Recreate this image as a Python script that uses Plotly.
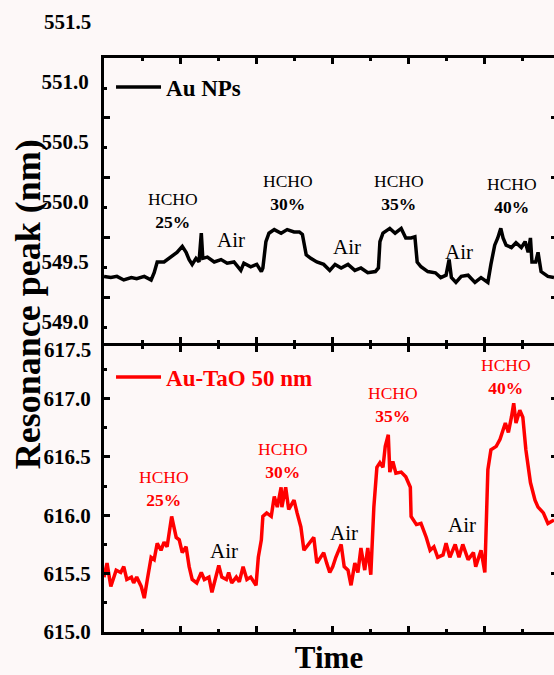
import plotly.graph_objects as go

# ---- measured resonance-peak traces (time in arbitrary units) ----
time_au = [0.0, 0.9, 1.7, 2.6, 3.6, 4.3, 5.3, 6.2, 6.6, 7.0, 7.9, 8.8, 9.6, 10.3, 10.8,
           11.2, 11.6, 12.1, 12.5, 12.8, 13.0, 13.6, 14.5, 15.4, 16.2, 17.1, 18.0, 18.4,
           19.3, 20.1, 20.7, 20.9, 21.3, 21.7, 22.4, 23.3, 24.1, 25.0, 25.7, 26.1, 26.6,
           27.2, 28.0, 28.9, 29.7, 30.4, 31.2, 32.1, 33.0, 33.8, 34.7, 35.7, 36.1, 36.3,
           36.7, 37.6, 38.3, 39.1, 39.7, 40.4, 40.9, 41.2, 41.7, 42.6, 43.6, 44.3, 45.0,
           45.4, 45.7, 46.3, 47.0, 47.9, 48.8, 49.6, 50.5, 50.9, 51.4, 51.8, 52.2, 52.5,
           52.9, 53.6, 54.2, 54.9, 55.4, 55.8, 56.1, 56.3, 56.8, 57.1, 57.5, 58.4, 59.2]
peak_au = [549.38, 549.37, 549.38, 549.35, 549.37, 549.36, 549.38, 549.35, 549.41, 549.50,
           549.50, 549.54, 549.58, 549.63, 549.58, 549.52, 549.48, 549.53, 549.50, 549.74,
           549.53, 549.54, 549.50, 549.52, 549.49, 549.50, 549.43, 549.49, 549.46, 549.48,
           549.42, 549.45, 549.67, 549.74, 549.77, 549.74, 549.77, 549.75, 549.75, 549.73,
           549.56, 549.53, 549.50, 549.48, 549.43, 549.48, 549.45, 549.48, 549.43, 549.45,
           549.41, 549.42, 549.45, 549.67, 549.74, 549.78, 549.74, 549.78, 549.70, 549.70,
           549.71, 549.50, 549.46, 549.42, 549.41, 549.37, 549.39, 549.52, 549.37, 549.33,
           549.38, 549.39, 549.33, 549.37, 549.33, 549.48, 549.64, 549.70, 549.78, 549.70,
           549.64, 549.62, 549.66, 549.62, 549.67, 549.58, 549.70, 549.50, 549.50, 549.58,
           549.42, 549.38, 549.37]

time_tao = [0.0, 0.4, 0.9, 1.6, 2.2, 2.6, 3.0, 3.6, 3.9, 4.3, 4.9, 5.3, 5.7, 6.2, 6.6, 7.0,
            7.5, 7.9, 8.3, 8.6, 8.9, 9.5, 9.9, 10.3, 10.8, 11.2, 11.6, 12.2, 12.8, 13.2,
            13.8, 14.2, 14.7, 15.1, 15.5, 16.1, 16.4, 16.8, 17.4, 17.8, 18.3, 18.8, 19.3,
            20.0, 20.3, 20.7, 20.9, 21.4, 22.0, 22.4, 22.8, 23.3, 23.4, 23.9, 24.3, 25.0,
            25.4, 25.9, 26.3, 27.0, 27.6, 28.0, 28.9, 29.3, 29.7, 30.1, 30.5, 31.2, 31.6,
            32.1, 32.5, 33.0, 33.4, 33.8, 34.3, 34.7, 35.1, 35.5, 35.9, 36.3, 36.7, 37.0,
            37.4, 37.6, 38.0, 38.4, 39.1, 39.7, 40.3, 40.4, 41.1, 41.7, 42.4, 42.9, 43.4,
            43.9, 44.6, 45.0, 45.5, 46.2, 46.7, 47.2, 47.9, 48.6, 48.9, 49.6, 50.1, 50.5,
            50.9, 51.6, 52.1, 52.8, 53.2, 53.6, 53.9, 54.2, 54.7, 55.1, 55.5, 56.1, 56.7,
            57.1, 57.8, 58.4, 59.2]
peak_tao = [615.47, 615.59, 615.39, 615.53, 615.51, 615.56, 615.45, 615.47, 615.42, 615.47,
            615.39, 615.29, 615.45, 615.64, 615.62, 615.76, 615.70, 615.77, 615.73, 615.87,
            615.99, 615.81, 615.79, 615.68, 615.73, 615.56, 615.45, 615.42, 615.51, 615.45,
            615.47, 615.34, 615.47, 615.57, 615.47, 615.45, 615.51, 615.42, 615.47, 615.43,
            615.56, 615.45, 615.47, 615.40, 615.64, 615.79, 615.99, 616.02, 615.99, 616.16,
            616.07, 616.24, 616.07, 616.24, 616.05, 616.13, 616.02, 615.90, 615.70, 615.76,
            615.81, 615.59, 615.68, 615.59, 615.51, 615.56, 615.64, 615.75, 615.56, 615.53,
            615.40, 615.59, 615.51, 615.72, 615.53, 615.72, 615.49, 616.07, 616.41, 616.45,
            616.41, 616.59, 616.69, 616.37, 616.46, 616.36, 616.37, 616.33, 616.24, 615.99,
            615.92, 615.93, 615.81, 615.70, 615.73, 615.64, 615.66, 615.76, 615.64, 615.75,
            615.64, 615.75, 615.62, 615.68, 615.56, 615.70, 615.51, 616.39, 616.56, 616.59,
            616.65, 616.79, 616.71, 616.84, 616.96, 616.79, 616.90, 616.84, 616.56, 616.28,
            616.13, 616.07, 616.02, 615.93, 615.96]

# ---- axis labels ----
au_tick_labels = [549.0, 549.5, 550.0, 550.5, 551.0, 551.5]
tao_tick_labels = [615.0, 615.5, 616.0, 616.5, 617.0, 617.5]
concentrations = ["25%", "30%", "35%", "40%"]

# label placement (time, peak) for the gas-exposure notes
au_gas_t = [9.1, 24.2, 38.8, 53.7]
au_gas_v = [549.93, 550.08, 550.08, 550.05]
au_air_t = [16.7, 32.0, 46.7]
au_air_v = [549.68, 549.625, 549.58]
tao_gas_t = [7.9, 23.5, 38.0, 52.9]
tao_gas_v = [616.23, 616.47, 616.95, 617.185]
tao_air_t = [15.8, 31.6, 47.1]
tao_air_v = [615.69, 615.85, 615.92]

SERIF = "Liberation Serif, Times New Roman, serif"
RED = "#ff0000"
au_range = [548.825, 551.2]
tao_range = [615.0, 617.45]
t_range = [0, 59.2]
split = 0.4983
top_start = split + 3 / 574   # lets the shared border lines overlap

fig = go.Figure()
fig.add_trace(go.Scatter(x=time_au, y=peak_au, mode="lines", name="Au NPs",
                         line=dict(color="black", width=3.5), xaxis="x2", yaxis="y2",
                         legend="legend"))
fig.add_trace(go.Scatter(x=time_tao, y=peak_tao, mode="lines", name="Au-TaO 50 nm",
                         line=dict(color=RED, width=3.5), xaxis="x", yaxis="y",
                         legend="legend2"))
# empty traces that carry the extra tick-mark axes
for ya, xa in (("y3", "x2"), ("y4", "x2"), ("y5", "x")):
    fig.add_trace(go.Scatter(x=[], y=[], xaxis=xa, yaxis=ya, showlegend=False,
                             hoverinfo="skip"))

tickfont = dict(family=SERIF, size=21, color="black", weight="bold")
xcommon = dict(range=t_range, showline=True, linewidth=3, linecolor="black",
               mirror="ticks", ticks="inside", tick0=0, dtick=10, ticklen=6,
               tickwidth=3, tickcolor="black", showticklabels=False,
               showgrid=False, zeroline=False,
               minor=dict(ticks="inside", dtick=5, tick0=0, ticklen=3, tickwidth=3,
                          tickcolor="black"))

fig.update_layout(
    width=554, height=675,
    margin=dict(l=104, r=0, t=58, b=43),
    paper_bgcolor="#fdf8f8", plot_bgcolor="rgba(0,0,0,0)",
    font=dict(family=SERIF, color="black"),
    xaxis=dict(anchor="y", domain=[0, 1],
               title=dict(text="<b>Time</b>", font=dict(family=SERIF, size=31),
                          standoff=14),
               **xcommon),
    xaxis2=dict(anchor="y2", domain=[0, 1], matches="x", **xcommon),
    yaxis=dict(anchor="x", domain=[0, split], range=tao_range, showline=True,
               linewidth=3, linecolor="black", ticks="inside", tickvals=tao_tick_labels[:-1],
               ticklen=6, tickwidth=3, tickcolor="black", tickformat=".1f",
               tickfont=tickfont, ticklabelstandoff=6, showgrid=False, zeroline=False,
               minor=dict(ticks="inside", dtick=0.25, tick0=615.0, ticklen=3,
                          tickwidth=3, tickcolor="black")),
    yaxis2=dict(anchor="x2", domain=[top_start, 1], range=au_range, showline=True,
                linewidth=3, linecolor="black", ticks="", tickvals=au_tick_labels[:-1],
                tickformat=".1f", tickfont=tickfont, ticklabelstandoff=8,
                showgrid=False, zeroline=False),
    yaxis3=dict(overlaying="y2", anchor="x2", side="left", range=au_range,
                showline=False, showticklabels=False, showgrid=False, zeroline=False,
                ticks="inside", tickvals=[549.2, 549.7, 550.2, 550.7], ticklen=6,
                tickwidth=3, tickcolor="black",
                minor=dict(ticks="inside", tickvals=[548.95, 549.45, 549.95, 550.45, 550.95],
                           ticklen=3, tickwidth=3, tickcolor="black")),
    yaxis4=dict(overlaying="y2", anchor="x2", side="right", range=au_range,
                showline=False, showticklabels=False, showgrid=False, zeroline=False,
                ticks="inside", tickvals=[549.2, 549.7, 550.2, 550.7], ticklen=3,
                tickwidth=3, tickcolor="black"),
    yaxis5=dict(overlaying="y", anchor="x", side="right", range=tao_range,
                showline=False, showticklabels=False, showgrid=False, zeroline=False,
                ticks="inside", tickvals=tao_tick_labels[:-1], ticklen=3,
                tickwidth=3, tickcolor="black"),
    legend=dict(x=0.0156, y=0.9495, xanchor="left", yanchor="middle", itemwidth=45,
                bgcolor="rgba(0,0,0,0)", font=dict(family=SERIF, size=23,
                                                   color="black", weight="bold")),
    legend2=dict(x=0.0156, y=0.444, xanchor="left", yanchor="middle", itemwidth=45,
                 bgcolor="rgba(0,0,0,0)", font=dict(family=SERIF, size=23,
                                                    color=RED, weight="bold")),
    showlegend=True,
)

annotations = []
# tick labels that sit beyond the plotted ranges
annotations.append(dict(text="551.5", xref="paper", yref="paper", x=-0.0244, y=1.0627,
                        xanchor="right", yanchor="middle", showarrow=False, font=tickfont))
annotations.append(dict(text="617.5", xref="paper", yref="paper", x=-0.0244, y=0.4913,
                        xanchor="right", yanchor="middle", showarrow=False, font=tickfont))
# shared vertical axis title
annotations.append(dict(text="<b>Resonance peak (nm)</b>", xref="paper", yref="paper",
                        x=-0.169, y=0.571, xanchor="center", yanchor="middle",
                        textangle=-90, showarrow=False,
                        font=dict(family=SERIF, size=36, color="black")))
for c, t, v in zip(concentrations, au_gas_t, au_gas_v):
    annotations.append(dict(text=f"HCHO<br><b>{c}</b>", x=t, y=v, xref="x2", yref="y2",
                            showarrow=False, font=dict(family=SERIF, size=17.5, color="black")))
for t, v in zip(au_air_t, au_air_v):
    annotations.append(dict(text="Air", x=t, y=v, xref="x2", yref="y2", showarrow=False,
                            font=dict(family=SERIF, size=21, color="black")))
for c, t, v in zip(concentrations, tao_gas_t, tao_gas_v):
    annotations.append(dict(text=f"HCHO<br><b>{c}</b>", x=t, y=v, xref="x", yref="y",
                            showarrow=False, font=dict(family=SERIF, size=17.5, color=RED)))
for t, v in zip(tao_air_t, tao_air_v):
    annotations.append(dict(text="Air", x=t, y=v, xref="x", yref="y", showarrow=False,
                            font=dict(family=SERIF, size=21, color="black")))
fig.update_layout(annotations=annotations)

fig.write_html("out.html")
